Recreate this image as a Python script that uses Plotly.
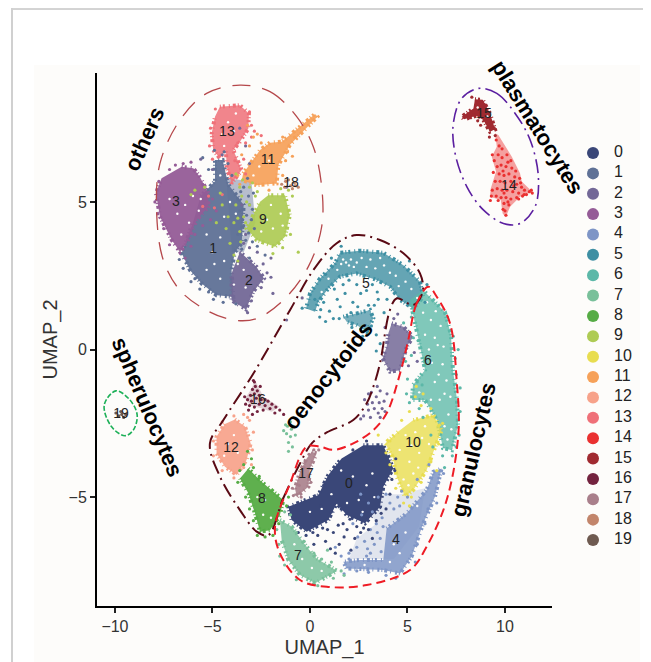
import plotly.graph_objects as go

W, H = 643, 654
colors = ["#3A4778", "#5F7196", "#736897", "#955C97", "#7E95C6", "#3E8FA3", "#5CB8A8", "#79C09A", "#56AC45", "#AECB54",
          "#E8DD50", "#F6A159", "#F7A28A", "#EF7078", "#EA3030", "#A02A30", "#73233F", "#A97F8B", "#C2856B", "#6E5A50"]
cluster_names = [str(i) for i in range(20)]

# dense body of each cluster in UMAP units
body = {
 1: [(-5.6,5.2),(-4.87,5.7),(-4.87,6.42),(-4.48,6.42),(-4.19,5.6),(-3.4,4.9),(-3.5,3.6),(-3.85,3.3),(-4.02,2.69),(-3.93,1.79),(-4.79,1.84),(-5.56,2.24),(-6.15,2.69),(-6.58,3.26),(-6.0,4.3)],
 3: [(-6.58,6.19),(-5.98,6.14),(-5.64,5.85),(-5.21,5.29),(-5.21,4.84),(-5.81,4.39),(-6.33,3.59),(-6.67,3.31),(-7.09,3.71),(-7.69,4.50),(-7.90,5.29),(-7.61,5.80)],
 2: [(-3.59,3.31),(-2.74,2.80),(-2.36,2.41),(-2.91,1.96),(-3.28,1.36),(-4.02,1.67),(-4.02,2.58)],
 9: [(-2.14,5.23),(-1.28,5.23),(-1.03,4.55),(-1.28,3.82),(-1.80,3.48),(-2.74,3.71),(-3.25,4.10),(-2.82,4.67),(-2.56,5.01)],
 11: [(-3.42,5.97),(-2.56,6.76),(-2.05,7.01),(-1.45,7.04),(0.26,7.98),(0.38,7.89),(-1.03,6.93),(-1.62,6.25),(-1.71,5.63),(-2.74,5.57),(-3.50,5.74)],
 13: [(-4.62,8.23),(-3.59,8.28),(-3.13,8.00),(-3.16,7.49),(-3.59,7.04),(-3.93,6.76),(-3.50,6.08),(-4.02,5.63),(-4.27,6.19),(-4.31,6.76),(-4.62,6.48),(-4.96,6.76),(-5.04,7.32),(-4.87,7.89)],
 5: [(-0.20,1.39),(0.00,1.90),(0.51,2.41),(1.28,2.92),(1.54,3.28),(2.57,3.35),(3.76,3.28),(4.79,2.86),(5.64,2.30),(5.81,1.79),(5.30,1.39),(4.62,1.68),(4.10,2.13),(3.42,2.36),(2.39,2.58),(1.54,2.47),(0.94,2.07),(0.43,1.62),(0.26,1.28)],
 6: [(5.79,2.02),(6.92,1.27),(7.23,0.49),(7.33,-0.69),(7.54,-1.71),(7.59,-2.56),(7.28,-3.41),(6.82,-3.34),(6.51,-2.39),(5.90,-1.71),(5.23,-1.71),(5.28,-1.20),(5.90,-0.69),(5.64,0.15),(5.38,1.0),(5.13,1.68)],
 10: [(5.30,-2.39),(6.33,-2.22),(6.75,-2.73),(6.33,-3.52),(5.98,-4.08),(5.30,-4.76),(4.87,-4.99),(4.45,-4.31),(4.24,-3.63),(3.85,-3.18),(4.53,-2.78)],
 4: [(3.93,-6.06),(4.96,-5.55),(5.98,-4.76),(6.33,-4.14),(6.75,-4.03),(6.41,-4.99),(5.81,-5.89),(5.21,-7.02),(4.62,-7.59),(3.76,-7.47),(1.88,-7.42),(1.71,-7.19),(2.57,-7.13),(3.76,-7.13)],
 0: [(2.74,-3.24),(3.76,-3.24),(4.27,-4.03),(3.76,-4.65),(3.59,-5.33),(2.82,-5.89),(1.88,-5.61),(1.37,-5.21),(0.94,-5.78),(-0.17,-6.17),(-0.94,-5.78),(-1.11,-5.33),(0.43,-4.93),(0.94,-4.25),(1.62,-3.69)],
 7: [(-1.54,-5.78),(-0.94,-6.0),(-0.17,-6.68),(0.34,-7.08),(1.40,-7.50),(0.86,-7.70),(0.26,-7.92),(-0.51,-7.64),(-1.11,-7.13),(-1.45,-6.46)],
 8: [(-3.16,-4.03),(-2.48,-4.48),(-1.37,-5.10),(-1.54,-5.61),(-2.05,-6.12),(-2.56,-6.17),(-2.82,-5.55),(-3.16,-4.87),(-3.59,-4.37)],
 12: [(-3.85,-2.37),(-3.33,-2.61),(-3.04,-3.18),(-3.25,-3.74),(-3.76,-4.25),(-4.36,-3.97),(-4.79,-3.52),(-4.79,-2.95),(-4.36,-2.52)],
 17: [(0.09,-3.46),(0.34,-3.52),(0.0,-4.03),(-0.08,-4.65),(-0.68,-4.99),(-0.77,-4.70),(-0.51,-4.14),(-0.17,-3.69)],
 15: [(8.46,8.48),(8.86,8.46),(9.23,8.0),(9.49,7.46),(9.23,7.38),(8.89,7.78),(8.52,7.92),(7.90,7.80),(7.78,7.89),(8.38,8.17)],
}
body_alpha = {1:.95, 3:.95, 2:.95, 9:.92, 11:.92, 13:.85, 5:.8, 6:.78, 10:.8, 4:.85, 0:1, 7:.85, 8:.95, 12:.92, 17:.9, 15:1}
body_lower_2 = [(4.19,0.89),(4.79,0.77),(5.30,0.43),(4.96,0.10),(4.62,-0.70),(4.10,-0.75),(3.73,-0.30),(3.93,0.10),(4.02,0.55)]
body_lower_5 = [(1.71,1.11),(2.39,1.23),(3.08,1.34),(3.25,1.06),(2.91,0.60),(2.39,0.83),(1.88,0.94)]

# thinly populated regions, drawn as a pale tint under their cells: (cluster, strength, outline)
sparse_regions = [
 (4, .22, [(2.6,-4.9),(4.6,-4.9),(5.9,-4.7),(5.6,-6.0),(4.3,-7.1),(2.0,-7.1),(2.4,-6.4),(3.4,-5.9)]),
 (1, .45, [(-4.3,5.8),(-3.0,5.7),(-2.8,4.3),(-3.4,3.3),(-4.0,3.3)]),
 (14, .45, [(9.49,7.33),(9.66,7.27),(10.35,6.53),(10.77,5.97),(10.86,5.69),(11.40,5.35),(10.77,5.18),(10.26,4.84),(10.04,4.48),(9.88,4.61),(9.78,5.07),(9.23,5.18),(9.27,5.46),(9.54,6.03),(9.32,6.53),(9.58,6.87)]),
 (16, .2, [(-2.82,-1.03),(-2.39,-1.60),(-1.57,-1.94),(-1.96,-2.11),(-2.48,-2.0),(-3.08,-1.88),(-3.33,-1.66),(-2.99,-1.32)]),
]

# loose cells around and between the dense bodies
loose = {
 0: [(0.4,-6.3),(0.8,-6.5),(1.2,-6.2),(1.5,-6.6),(1.9,-6.1),(2.3,-6.4),(2.6,-6.2),(2.1,-6.8),(1.3,-6.9),(0.9,-6.1),(3.0,-6.1),(3.4,-5.8),(3.9,-5.4),(4.1,-4.9),(4.4,-3.7),(2.9,-3.1),(2.2,-3.4),(1.4,-4.0),(0.7,-4.6),(0.2,-6.6),(-0.2,-6.3),(-0.6,-6.2),(1.7,-5.9),(2.4,-6.0),(1.1,-5.5),(1.6,-5.4),(3.2,-6.4),(0.55,-5.3),(0.65,-6.05),(1.05,-6.75),(1.75,-6.35),(2.05,-5.75),(2.75,-6.05),(0.15,-6.2),(1.45,-5.95),(3.65,-5.55),(4.2,-4.4),(4.35,-4.1)],
 1: [(-3.4,4.2),(-3.1,4.9),(-3.7,5.1),(-3.4,5.5),(-2.9,5.3),(-4.0,5.9),(-4.2,6.3),(-5.2,6.1),(-5.5,6.5),(-3.3,3.7),(-3.5,3.4),(-2.3,3.2),(-2.7,3.5),(-3.0,4.4),(-3.7,3.9),(-4.9,6.75),(-4.4,6.7),(-3.6,4.7),(-3.2,5.8),(-6.3,2.95),(-5.9,2.4),(-5.2,1.95),(-3.1,3.1),(-3.25,4.55),(-2.95,4.75),(-3.55,5.35),(-3.15,5.2),(-2.85,4.1),(-3.15,3.95),(-3.45,4.4),(-2.95,3.65),(-6.7,3.05),(-6.5,2.75),(-6.1,2.3),(-5.65,2.05),(-4.95,1.7),(-4.45,1.6),(-3.8,1.55)],
 2: [(-2.2,2.6),(-2.0,2.45),(-2.4,2.9),(-3.1,3.45),(-3.0,1.65),(-3.2,1.25),(-1.2,1.0),(-0.4,1.75),(-1.9,1.9),(-2.5,2.1),(-3.4,3.6),(-3.3,3.9),(-2.7,3.3),(-5.6,6.45),(-5.0,6.1),(-4.5,6.6),(-3.6,7.5),(-3.3,6.9),(-3.1,6.3),(-1.2,5.5),(-2.0,3.1),(-3.5,4.9)],
 3: [(-6.1,6.35),(-6.5,6.3),(-5.5,5.6),(-5.0,5.1),(-5.1,4.4),(-5.5,4.2),(-5.9,3.9),(-6.1,3.5),(-6.4,3.1),(-4.8,4.7),(-7.95,5.0),(-7.8,4.6),(-7.5,4.1),(-7.2,3.55),(-7.75,5.7),(-7.2,6.1),(-6.9,6.25)],
 4: [(2.6,-4.9),(3.0,-5.2),(3.4,-5.9),(3.7,-5.7),(4.1,-5.2),(4.5,-5.0),(3.1,-6.1),(2.8,-6.5),(2.4,-6.7),(2.0,-6.9),(3.3,-6.6),(3.6,-6.4),(3.1,-6.9),(1.6,-7.0),(1.3,-6.7),(5.5,-4.4),(6.1,-3.9),(4.7,-4.8),(2.2,-5.9),(3.5,-5.0),(6.5,-5.2),(5.9,-5.9),(5.5,-6.6),(2.9,-7.0),(2.0,-7.1),(3.9,-4.9),(4.3,-5.4),(3.75,-6.0),(4.6,-5.3),(5.0,-5.0),(3.2,-5.5),(2.65,-5.6),(2.45,-6.35),(2.95,-6.75),(3.45,-6.2),(3.65,-6.85),(1.75,-7.6),(2.4,-7.5),(3.0,-7.55),(3.9,-7.65),(4.4,-7.75),(5.4,-7.2),(6.05,-5.4),(6.6,-4.5),(6.85,-4.2)],
 5: [(0.7,1.6),(1.0,1.3),(1.4,1.7),(1.8,1.9),(2.2,1.6),(2.6,1.9),(3.0,1.5),(2.9,2.0),(2.4,2.2),(1.7,2.2),(1.2,1.05),(0.5,1.1),(-0.4,1.4),(0.8,0.95),(3.5,1.7),(3.8,1.25),(3.4,0.5),(3.6,0.2),(3.4,-0.05),(5.9,1.6),(6.0,2.2),(5.1,3.0),(1.1,3.1),(1.6,3.5),(0.8,2.55),(3.95,1.7),(2.1,1.25),(2.7,0.45),(0.25,1.7),(0.55,1.35),(1.25,2.05),(2.0,2.35),(3.2,2.2),(3.45,1.95),(1.55,1.45),(2.45,1.45),(3.15,0.8),(3.3,1.5),(1.5,1.05),(2.15,0.75),(2.6,0.7)],
 6: [(4.9,-0.4),(5.2,-0.2),(5.3,0.4),(5.5,-1.1),(5.0,-1.0),(5.1,-1.8),(5.6,-2.0),(6.2,-2.9),(6.8,-3.6),(6.9,-4.0),(7.3,-3.6),(7.6,0.0),(7.7,-1.3),(6.6,1.5),(4.8,0.9),(5.8,-2.3),(7.45,-0.3),(7.65,-2.9),(6.3,-3.3),(4.95,-1.5),(7.05,1.1),(7.35,0.45),(7.5,-0.85),(7.7,-2.1),(7.5,-3.3),(5.2,1.1),(5.55,0.3),(5.85,-0.4),(5.75,-1.2)],
 7: [(-1.3,-5.5),(-1.0,-5.6),(-0.7,-6.2),(-0.3,-6.5),(0.2,-6.9),(0.6,-7.1),(1.1,-7.2),(1.6,-7.5),(1.75,-7.65),(0.4,-8.0),(-0.7,-7.8),(-1.3,-7.3),(-1.6,-6.6),(0.9,-6.8),(1.2,-7.75),(-1.55,-7.0),(-1.7,-6.1)],
 8: [(-3.4,-3.9),(-3.6,-4.1),(-3.0,-3.7),(-2.9,-4.0),(-2.6,-4.3),(-3.3,-5.0),(-3.1,-5.4),(-2.9,-5.8),(-2.7,-6.3),(-1.9,-6.3),(-1.6,-5.9),(-1.2,-5.3),(-2.3,-6.35),(-3.7,-4.5),(-1.1,-5.0),(-3.2,-3.45)],
 9: [(-3.1,4.9),(-3.5,5.2),(-3.8,4.9),(-3.9,4.3),(-4.2,4.5),(-4.5,4.9),(-5.4,5.5),(-5.9,5.4),(-6.1,5.25),(-3.1,5.5),(-2.8,5.2),(-3.4,4.5),(-4.1,3.6),(-3.7,3.0),(-3.9,3.2),(-1.1,5.4),(-0.9,5.2),(-1.4,3.45),(-1.0,3.9),(-1.9,3.25),(-0.6,3.3),(-4.6,5.3),(-3.6,5.5),(-3.8,5.95),(-1.5,5.45),(-4.8,4.3),(-3.3,4.3),(-3.05,4.05),(-3.6,4.0),(-3.25,5.0),(-2.95,5.65),(-3.45,5.75),(-2.7,5.35),(-3.7,4.45),(-4.3,4.1),(-3.55,3.65)],
 10: [(4.1,-3.1),(3.9,-3.5),(4.7,-2.4),(5.1,-2.1),(5.7,-1.9),(5.4,-1.6),(6.2,-2.0),(6.8,-2.5),(6.6,-3.2),(6.2,-3.8),(5.7,-4.5),(5.2,-5.0),(4.8,-5.2),(4.4,-4.7),(4.1,-3.9),(5.8,-1.5),(5.45,-1.25),(5.1,-5.3),(6.5,-4.1),(3.5,-2.9)],
 11: [(-3.5,6.6),(-3.1,6.9),(-2.9,7.2),(-2.5,7.0),(-1.4,7.2),(-2.7,7.3),(-3.2,7.6),(-1.25,6.4),(-1.15,6.7),(-0.8,7.2),(-3.7,5.9),(-3.6,5.6),(-1.4,5.9),(-0.9,6.55),(-2.1,5.4)],
 12: [(-3.2,-2.3),(-3.4,-2.2),(-3.9,-2.25),(-4.5,-2.45),(-4.95,-3.1),(-4.95,-3.6),(-4.5,-4.1),(-3.9,-4.35),(-3.4,-4.0),(-2.95,-3.4),(-3.0,-3.9),(-2.9,-2.8),(-3.1,-2.4)],
 13: [(-3.1,8.05),(-3.0,7.6),(-4.85,8.15),(-5.1,7.5),(-5.15,6.9),(-5.0,6.45),(-3.0,7.2),(-3.3,7.0),(-3.7,7.0),(-3.85,6.4),(-3.4,6.45),(-5.2,5.2),(-5.5,4.85),(-4.5,5.25),(-4.9,4.8),(-3.3,5.95),(-2.85,7.4),(-2.5,7.25)],
 14: [(9.55,7.1),(9.7,6.9),(9.85,6.8),(9.65,6.6),(9.85,6.5),(10.1,6.6),(10.3,6.4),(9.45,6.4),(9.6,6.2),(9.8,6.25),(10.05,6.2),(10.35,6.15),(10.55,6.05),(9.7,5.95),(9.95,5.9),(10.2,5.95),(10.5,5.85),(10.75,5.8),(9.5,5.7),(9.75,5.7),(10.0,5.65),(10.3,5.7),(10.6,5.6),(10.85,5.5),(9.35,5.4),(9.6,5.45),(9.85,5.4),(10.1,5.4),(10.4,5.35),(10.7,5.3),(11.0,5.4),(11.25,5.35),(9.3,5.2),(9.55,5.2),(9.8,5.15),(10.05,5.15),(10.3,5.1),(10.6,5.15),(10.9,5.2),(9.95,4.95),(10.2,4.9),(9.9,4.75),(10.05,4.55),(9.95,5.3),(10.45,5.55),(9.4,6.0),(9.35,6.6),(10.15,6.35),(9.9,6.05),(10.7,5.1),(11.1,5.25),(10.0,4.7),(10.15,5.0),(9.25,5.05),(9.65,5.05),(11.35,5.4),(11.4,5.3),(10.98,5.25),(10.8,5.65)],
 15: [(9.3,7.7),(9.45,7.5),(9.5,7.25),(8.2,7.85),(8.4,7.95),(8.6,7.75),(8.75,7.6),(8.3,8.55),(8.95,8.3),(9.2,7.2)],
 16: [(-2.85,-1.1),(-2.8,-1.25),(-2.95,-1.35),(-2.7,-1.4),(-2.85,-1.5),(-3.05,-1.55),(-2.6,-1.55),(-2.75,-1.65),(-3.2,-1.7),(-3.0,-1.75),(-2.5,-1.7),(-2.3,-1.7),(-2.15,-1.75),(-1.95,-1.85),(-1.75,-1.95),(-1.55,-2.05),(-2.6,-1.85),(-2.85,-1.95),(-3.1,-1.9),(-3.3,-1.85),(-2.3,-1.9),(-2.05,-2.0),(-1.8,-2.15),(-2.4,-2.05),(-2.7,-2.1),(-3.35,-1.6),(-2.55,-1.25),(-1.35,-2.2),(-2.95,-2.2),(-3.15,-2.05),(-2.9,-1.05)],
 17: [(0.45,-3.4),(0.2,-3.4),(-0.05,-3.55),(-0.3,-4.0),(-0.1,-4.3),(-0.55,-4.6),(-0.85,-4.95),(-0.45,-5.0),(0.05,-4.5),(-0.9,-4.7),(-0.25,-3.8)],
 18: [(-1.45,5.6),(-1.25,5.7),(-1.0,5.55),(-0.8,5.65),(-0.6,5.5),(-0.9,5.45),(-1.1,5.75),(-1.3,5.5),(-0.75,5.55)],
 19: [(-9.95,-2.15),(-9.8,-2.25),(-9.65,-2.2),(-9.55,-2.3),(-9.7,-2.1),(-9.45,-2.2)],
}
loose_oeno_purple = [(2.8,-1.7),(3.0,-1.5),(3.2,-1.8),(3.4,-1.6),(3.6,-1.4),(3.8,-1.75),(3.3,-2.0),(3.5,-2.15),(3.0,-2.05),(2.75,-2.25),(3.7,-2.0),(3.95,-1.5),(3.15,-1.45),(3.45,-1.25),(3.6,-2.3),(2.6,-2.35),(4.3,1.05),(4.5,1.2),(3.85,0.75),(5.35,-0.1),(5.5,-0.4),(4.9,-0.1),(5.05,-0.55),(3.1,-2.3),(3.85,-2.1),(2.95,-1.85),(3.55,-1.8)]
loose_mint_6 = [(-1.35,-2.75),(-1.15,-2.6),(-0.95,-2.7),(-1.2,-2.85),(-1.0,-2.95),(-0.85,-2.6),(-1.1,-3.15),(-0.9,-3.3),(-1.1,-3.45),(-1.0,-2.45),(-0.75,-2.9),(-1.25,-2.55)]

# white gaps inside the dense bodies
gaps = [(-6.8,4.6),(-6.4,4.9),(-6.0,5.2),(-5.6,5.1),(-6.2,4.3),(-5.7,4.7),(-6.6,3.9),(-7.2,5.1),(-5.3,3.9),(-5.0,3.3),(-4.6,3.8),(-4.9,2.9),(-4.4,3.0),(-4.6,2.4),(-5.3,2.7),(-3.9,2.2),(-3.4,2.7),(-3.7,2.9),(-3.3,2.1),(-4.4,4.5),(-4.1,5.0),(-3.8,4.6),(-4.6,5.9),(-3.4,3.9),(-2.2,4.4),(-1.9,4.1),(-1.5,4.6),(-2.0,4.9),(-2.5,4.0),(-1.4,4.2),(-2.6,6.2),(-2.1,6.4),(-2.9,5.9),(-4.2,7.7),(-3.9,7.4),(-4.5,7.3),(-3.8,8.0),(-4.4,6.9),
        (1.6,2.9),(1.85,2.95),(2.1,3.05),(2.4,2.95),(3.1,3.05),(3.8,2.85),(4.4,2.5),(4.9,2.3),(0.6,1.95),(0.95,2.4),(1.4,2.7),(5.8,1.25),(6.2,1.0),(6.4,0.4),(6.1,0.0),(6.8,-0.5),(6.4,-1.1),(6.9,-1.5),(7.1,-2.2),(6.7,0.8),(5.9,0.5),(6.2,-1.7),
        (1.7,3.05),(2.0,2.85),(2.25,2.8),(2.65,3.1),(2.9,2.8),(3.35,2.75),(3.6,3.1),(4.1,2.6),(4.55,2.15),(5.2,2.05),(5.5,1.75),(6.0,1.6),(6.45,1.3),(6.55,0.15),(6.85,0.1),(6.25,-0.45),(6.6,-0.85),(7.0,-1.05),(6.65,-1.7),(7.2,-1.6),(6.9,-2.6),(7.25,-2.7),(7.05,-3.05),(5.6,-1.45),
        (4.9,-2.9),(5.4,-2.8),(5.9,-2.6),(6.1,-3.2),(5.6,-3.5),(5.1,-3.8),(4.8,-4.4),(5.3,-4.2),(4.6,-3.4),(5.2,-3.25),(5.75,-3.0),(5.05,-4.6),(5.55,-4.0),
        (1.6,-4.1),(2.2,-4.3),(2.9,-4.6),(1.9,-5.2),(2.5,-5.1),(3.2,-4.2),(0.6,-5.4),(0.0,-5.5),(1.1,-4.9),(3.3,-5.0),(2.7,-5.5),
        (4.3,-6.6),(4.6,-6.9),(4.9,-6.2),(5.5,-5.3),(4.1,-7.2),(2.8,-7.3),(-0.4,-7.1),(0.1,-7.4),(-0.8,-6.6),(0.6,-7.5),(-2.3,-5.1),(-2.7,-5.0),(-2.0,-5.7),(-2.4,-5.6),(-4.2,-3.2),(-3.7,-3.5),(-3.9,-2.9),(-4.4,-3.6),(9.1,7.9),(8.6,8.2)]

others_curve = [(-3.59,8.96),(-2.05,8.74),(-0.68,7.89),(0.17,6.87),(0.60,5.52),(0.60,4.16),(-0.09,2.80),(-1.37,1.67),(-2.74,1.05),(-3.93,1.0),(-5.30,1.33),(-6.67,2.01),(-7.52,3.03),(-7.86,4.61),(-7.69,6.31),(-6.67,7.77),(-5.30,8.68),(-3.59,8.96)]
plasma_curve = [(8.64,8.85),(9.58,8.68),(10.52,8.0),(11.29,7.10),(11.71,5.86),(11.54,4.84),(10.77,4.27),(9.92,4.27),(8.89,4.73),(8.04,5.52),(7.44,6.65),(7.35,7.66),(7.78,8.51),(8.64,8.85)]
oeno_curve = [(-2.14,-6.29),(-1.37,-5.04),(-0.51,-3.86),(0.09,-3.18),(0.86,-2.81),(2.22,-2.39),(2.91,-1.82),(3.25,-1.26),(3.59,-0.47),(4.10,1.34),(4.45,1.73),(5.30,1.51),(5.78,1.96),(5.64,2.58),(4.79,3.26),(3.59,3.71),(2.39,3.88),(1.37,3.60),(0.17,2.69),(-1.02,1.34),(-2.90,-0.81),(-4.44,-2.39),(-5.13,-3.18),(-4.61,-4.31),(-3.59,-5.44),(-2.73,-6.17),(-2.14,-6.29)]
granulo_curve = [(6.07,2.13),(5.47,1.56),(5.04,0.32),(4.62,-0.81),(3.93,-2.16),(3.25,-2.73),(2.22,-3.18),(1.20,-3.40),(0.51,-3.29),(-0.17,-3.29),(-1.02,-4.54),(-1.79,-6.0),(-1.54,-6.91),(-0.51,-7.81),(0.86,-8.04),(2.91,-7.98),(5.13,-7.47),(5.98,-6.68),(7.01,-5.10),(7.61,-2.84),(7.52,-1.03),(7.18,0.89),(6.50,1.79),(6.07,2.13)]
spherulo_curve = [(-9.95,-1.40),(-9.23,-1.71),(-8.86,-2.22),(-9.06,-2.73),(-9.49,-2.92),(-10.17,-2.62),(-10.55,-1.88),(-9.95,-1.40)]

cluster_label_x = [2.0,-4.97,-3.13,-6.87,4.41,2.87,6.05,-0.62,-2.46,-2.41,5.28,-2.15,-4.05,-4.26,10.2,8.92,-2.67,-0.2,-0.97,-9.69]
cluster_label_y = [-4.56,3.4,2.32,4.97,-6.46,2.22,-0.39,-7.0,-5.07,4.36,-3.2,6.42,-3.37,7.37,5.54,7.98,-1.71,-4.25,5.64,-2.19]

fig = go.Figure()
PAPER = "#FDFCFB"

def tint(c, alpha):
    h = colors[c].lstrip("#")
    return f"rgba({int(h[:2],16)},{int(h[2:4],16)},{int(h[4:],16)},{alpha})"

def add_body(points, c, alpha=1.0):
    fig.add_trace(go.Scatter(x=[p[0] for p in points], y=[p[1] for p in points], mode="lines", fill="toself",
                             fillcolor=tint(c, alpha),
                             line=dict(color=colors[c], width=4, dash="1px,2px,2px,4px,1px,3px,3px,2px"),
                             hoverinfo="skip", showlegend=False))

def add_sparse(points, c, alpha):
    fig.add_trace(go.Scatter(x=[p[0] for p in points], y=[p[1] for p in points], mode="lines", fill="toself",
                             fillcolor=tint(c, alpha), line=dict(width=0), hoverinfo="skip", showlegend=False))

def add_dots(points, c, size=3.2):
    fig.add_trace(go.Scatter(x=[p[0] for p in points], y=[p[1] for p in points], mode="markers",
                             marker=dict(color=colors[c], size=size, line=dict(width=0)),
                             hoverinfo="skip", showlegend=False))

for c, strength, outline in sparse_regions:
    add_sparse(outline, c, strength)
for c in [1, 3, 2, 9, 11, 13, 5, 6, 10, 4, 0, 7, 8, 12, 17, 15]:
    add_body(body[c], c, body_alpha[c])
add_body(body_lower_2, 2, .85)
add_body(body_lower_5, 5, .7)
fig.add_trace(go.Scatter(x=[p[0] for p in gaps], y=[p[1] for p in gaps], mode="markers",
                         marker=dict(color=PAPER, size=2.4, line=dict(width=0)), hoverinfo="skip", showlegend=False))
for c in [3, 1, 2, 13, 11, 9, 5, 6, 10, 4, 0, 7, 8, 12, 17, 18, 19, 16, 15, 14]:
    add_dots(loose[c], c)
add_dots(loose_oeno_purple, 2)
add_dots(loose_mint_6, 7)

for curve, col, width, dash in [
    (others_curve, "#B5474A", 1.3, "18px,12px"),
    (plasma_curve, "#5B1FA0", 1.6, "14px,5px,2px,5px"),
    (oeno_curve, "#5A0A14", 2, "14px,5px,2px,5px"),
    (granulo_curve, "#EE1C25", 2, "9px,5px"),
    (spherulo_curve, "#1DB058", 1.6, "5px,2px"),
]:
    fig.add_trace(go.Scatter(x=[p[0] for p in curve], y=[p[1] for p in curve], mode="lines",
                             line=dict(color=col, width=width, dash=dash, shape="spline", smoothing=1),
                             hoverinfo="skip", showlegend=False))

fig.add_trace(go.Scatter(x=cluster_label_x, y=cluster_label_y, mode="text", text=cluster_names,
                         textfont=dict(family="Liberation Sans", size=14, color="#222222"),
                         hoverinfo="skip", showlegend=False))

# key on its own small axes so its spacing can match the reference
fig.add_trace(go.Scatter(x=[0]*20, y=list(range(20)), xaxis="x2", yaxis="y2", mode="markers",
                         marker=dict(color=colors, size=12, line=dict(width=0)), hoverinfo="skip", showlegend=False))
fig.add_trace(go.Scatter(x=[21]*20, y=list(range(20)), xaxis="x2", yaxis="y2", mode="text", text=cluster_names,
                         textposition="middle right", textfont=dict(family="Liberation Sans", size=16, color="#222222"),
                         hoverinfo="skip", showlegend=False))

# the page puts the figure 8 px in from its top-left corner
px_x = lambda p: (p - 8) / W
px_y = lambda p: 1 - (p - 8) / H
tickfont = dict(family="Liberation Sans", size=16, color="#333333")
titlefont = dict(family="Liberation Sans", size=20, color="#333333")
fig.update_layout(
    width=W, height=H, margin=dict(l=0, r=0, t=0, b=0), showlegend=False,
    paper_bgcolor="white", plot_bgcolor="rgba(0,0,0,0)",
    xaxis=dict(domain=[px_x(97), px_x(552)], range=[-10.92, 12.41], showgrid=False, zeroline=False,
               showline=True, linecolor="black", linewidth=2, ticks="outside", ticklen=5, tickwidth=1.5, tickcolor="#222222",
               tickvals=[-10, -5, 0, 5, 10], ticktext=["\u221210", "\u22125", "0", "5", "10"], tickfont=tickfont,
               title=dict(text="UMAP_1", font=titlefont, standoff=6)),
    yaxis=dict(domain=[px_y(606), px_y(73)], range=[-8.69, 9.37], showgrid=False, zeroline=False,
               showline=True, linecolor="black", linewidth=2, ticks="outside", ticklen=5, tickwidth=1.5, tickcolor="#222222",
               tickvals=[-5, 0, 5], ticktext=["\u22125", "0", "5"], tickfont=tickfont,
               title=dict(text="UMAP_2", font=titlefont, standoff=6)),
    xaxis2=dict(domain=[px_x(580), px_x(640)], range=[-13, 47], visible=False, anchor="y2"),
    yaxis2=dict(domain=[0, 1], range=[24.99, -7.12], visible=False, anchor="x2"),
    shapes=[
        dict(type="rect", xref="paper", yref="paper", x0=px_x(34), x1=px_x(640), y0=0, y1=px_y(65),
             fillcolor="#FDFCFA", line=dict(width=0), layer="below"),
        dict(type="line", xref="paper", yref="paper", x0=px_x(12), x1=1, y0=px_y(9), y1=px_y(9),
             line=dict(color="#A8A8A8", width=1), layer="below"),
        dict(type="line", xref="paper", yref="paper", x0=px_x(12), x1=px_x(12), y0=0, y1=px_y(8),
             line=dict(color="#D0D0D0", width=2), layer="below"),
    ],
    annotations=[
        dict(text=t, x=(px - 310) / 19.5, y=(349.5 - py) / 29.5, xref="x", yref="y", showarrow=False, textangle=a,
             font=dict(family="Liberation Sans", size=22, color="black", weight="bold"))
        for t, px, py, a in [("others", 145, 139, -66), ("plasmatocytes", 537, 127, 58), ("spherulocytes", 148, 407, 67),
                             ("oenocytoids", 328, 375, -52), ("granulocytes", 473, 449, -77)]
    ],
)
fig.write_html("out.html")
